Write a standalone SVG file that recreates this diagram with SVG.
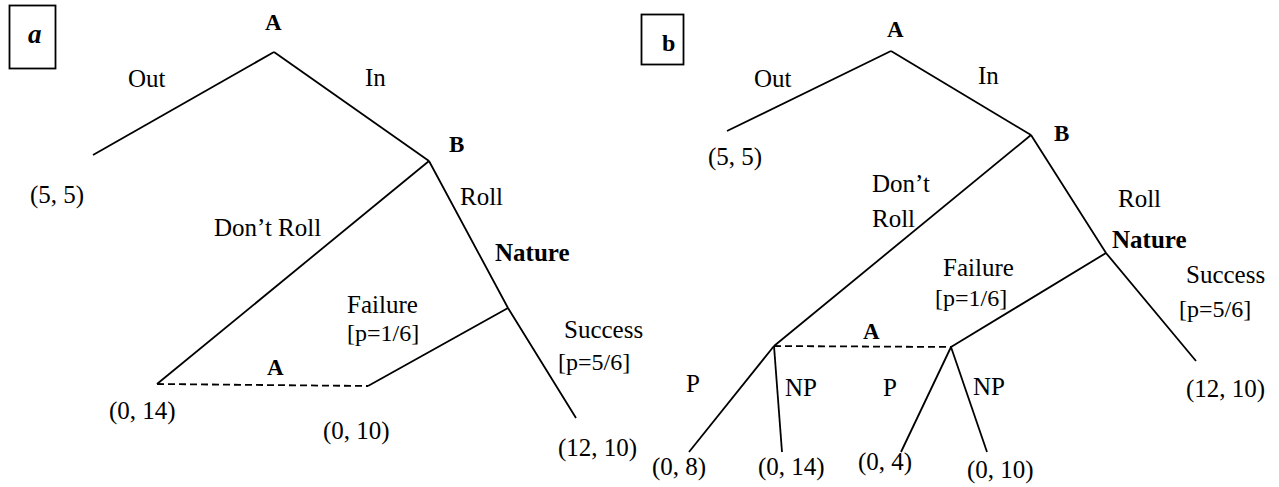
<svg xmlns="http://www.w3.org/2000/svg" width="1279" height="487" viewBox="0 0 1279 487">
<style>
text{font-family:"Liberation Serif","Times New Roman",serif;font-size:25px;fill:#000}
.b{font-weight:bold;font-size:23px}
.nat{font-weight:bold;font-size:25px}
.e{stroke:#000;stroke-width:1.8;fill:none;stroke-linecap:butt;stroke-linejoin:miter}
.d{stroke:#000;stroke-width:1.8;fill:none;stroke-dasharray:7 4}
.box{stroke:#000;stroke-width:1.8;fill:none}
</style>
<rect width="1279" height="487" fill="#fff"/>
<!-- Panel a -->
<g id="panel-a-label"><rect class="box" x="9.5" y="5.5" width="46" height="63"/><text x="28" y="43" style="font-weight:bold;font-style:italic;font-size:27px">a</text></g>
<g id="a-connectors">
<line class="e" x1="274" y1="52" x2="93" y2="155"/>
<line class="e" x1="274" y1="52" x2="429" y2="161"/>
<line class="e" x1="429" y1="161" x2="157" y2="384"/>
<polyline class="e" points="429,161 508,308 576,418"/>
<line class="e" x1="508" y1="308" x2="368" y2="386"/>
<line class="d" x1="157" y1="384" x2="368" y2="386"/>
<text x="128" y="87">Out</text>
<text x="365" y="86">In</text>
<text x="460" y="205">Roll</text>
<text x="214" y="236">Don’t Roll</text>
<text x="347" y="313">Failure</text>
<text x="347" y="341" style="font-size:24px">[p=1/6]</text>
<text x="564" y="338">Success</text>
<text x="558" y="370" style="font-size:24px">[p=5/6]</text>
</g>
<g id="a-node-A"><text class="b" x="265" y="30">A</text></g>
<g id="a-node-B"><text class="b" x="449" y="152">B</text></g>
<g id="a-node-Nature"><text class="nat" x="495" y="261">Nature</text></g>
<g id="a-info-A"><text class="b" x="267" y="375">A</text></g>
<g id="a-out-55"><text x="30" y="203">(5, 5)</text></g>
<g id="a-out-014"><text x="109" y="419">(0, 14)</text></g>
<g id="a-out-010"><text x="323" y="439">(0, 10)</text></g>
<g id="a-out-1210"><text x="558" y="456">(12, 10)</text></g>
<!-- Panel b -->
<g id="panel-b-label"><rect class="box" x="641.5" y="14.5" width="42" height="50"/><text x="662" y="51" style="font-weight:bold;font-size:24px">b</text></g>
<g id="b-connectors">
<line class="e" x1="891" y1="51" x2="727" y2="131"/>
<line class="e" x1="891" y1="51" x2="1031" y2="135"/>
<line class="e" x1="1031" y1="135" x2="774" y2="346"/>
<polyline class="e" points="1031,135 1106,253 1196,361"/>
<line class="e" x1="1106" y1="253" x2="951" y2="347"/>
<line class="d" x1="774" y1="346" x2="951" y2="347"/>
<line class="e" x1="774" y1="346" x2="689" y2="452"/>
<line class="e" x1="774" y1="346" x2="782" y2="452"/>
<line class="e" x1="951" y1="347" x2="901" y2="452"/>
<line class="e" x1="951" y1="347" x2="987" y2="452"/>
<text x="754" y="87">Out</text>
<text x="978" y="84">In</text>
<text x="872" y="192">Don’t</text>
<text x="872" y="227">Roll</text>
<text x="1118" y="207">Roll</text>
<text x="943" y="276">Failure</text>
<text x="935" y="306" style="font-size:24px">[p=1/6]</text>
<text x="1186" y="283">Success</text>
<text x="1179" y="317" style="font-size:24px">[p=5/6]</text>
<text x="686" y="392">P</text>
<text x="785" y="396">NP</text>
<text x="883" y="396">P</text>
<text x="973" y="395">NP</text>
</g>
<g id="b-node-A"><text class="b" x="887" y="37">A</text></g>
<g id="b-node-B"><text class="b" x="1054" y="141">B</text></g>
<g id="b-node-Nature"><text class="nat" x="1112" y="248">Nature</text></g>
<g id="b-info-A"><text class="b" x="863" y="339">A</text></g>
<g id="b-out-55"><text x="708" y="165">(5, 5)</text></g>
<g id="b-out-08"><text x="652" y="475">(0, 8)</text></g>
<g id="b-out-014"><text x="758" y="475">(0, 14)</text></g>
<g id="b-out-04"><text x="858" y="470">(0, 4)</text></g>
<g id="b-out-010"><text x="967" y="478">(0, 10)</text></g>
<g id="b-out-1210"><text x="1186" y="397">(12, 10)</text></g>
</svg>
